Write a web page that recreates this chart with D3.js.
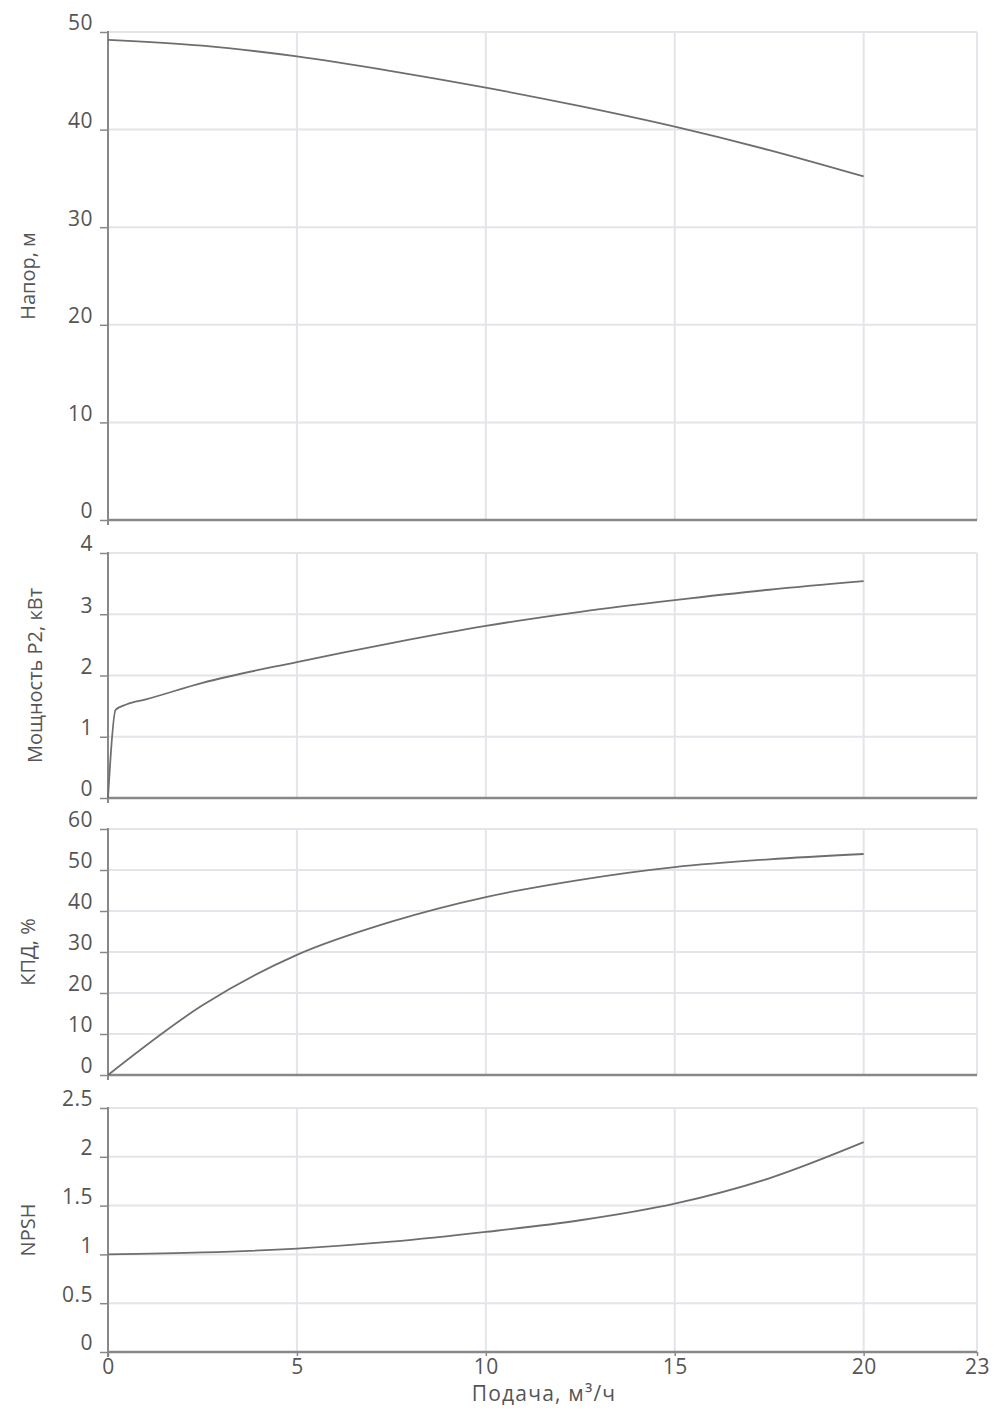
<!DOCTYPE html>
<html>
<head>
<meta charset="utf-8">
<script src="https://cdn.jsdelivr.net/npm/d3@7"></script>
<style>
  body { margin: 0; background: #fff; }
  svg text { font-family: "Open Sans", "DejaVu Sans", sans-serif; fill: #555; }
</style>
</head>
<body>
<svg id="chart" width="1000" height="1411"></svg>
<script>
// flow, m3/h
var flow = [0, 2.5, 5, 7.5, 10, 12.5, 15, 17.5, 20];
var head = [49.2, 48.6, 47.5, 46.0, 44.3, 42.4, 40.3, 37.9, 35.2];

var powerFlow = [0, 0.2, 0.5, 1, 2.5, 5, 7.5, 10, 12.5, 15, 17.5, 20];
var power = [0, 1.44, 1.53, 1.61, 1.88, 2.22, 2.53, 2.81, 3.04, 3.23, 3.40, 3.54];

var eff = [0, 17.0, 29.3, 37.4, 43.4, 47.6, 50.7, 52.6, 53.9];
var npsh = [1.0, 1.02, 1.06, 1.13, 1.23, 1.35, 1.52, 1.78, 2.15];

var xTicks = [0, 5, 10, 15, 20, 23];

var panels = [
  { title: "Напор, м", q: flow, v: head, max: 50, ticks: [0, 10, 20, 30, 40, 50], top: 32, bottom: 520, tx: 28 },
  { title: "Мощность P2, кВт", q: powerFlow, v: power, max: 4, ticks: [0, 1, 2, 3, 4], top: 553, bottom: 798, tx: 35 },
  { title: "КПД, %", q: flow, v: eff, max: 60, ticks: [0, 10, 20, 30, 40, 50, 60], top: 829, bottom: 1075, tx: 28 },
  { title: "NPSH", q: flow, v: npsh, max: 2.5, ticks: [0, 0.5, 1, 1.5, 2, 2.5], top: 1108, bottom: 1352, tx: 28 }
];

var svg = d3.select("#chart");
var x = d3.scaleLinear().domain([0, 23]).range([108, 977]);
var fmt = d3.format("~g");

panels.forEach(function (p, i) {
  var y = d3.scaleLinear().domain([0, p.max]).range([p.bottom, p.top]);
  var g = svg.append("g");

  // grid
  g.selectAll(".hg").data(p.ticks.slice(1)).join("line")
    .attr("x1", x(0)).attr("x2", x(23))
    .attr("y1", d => y(d)).attr("y2", d => y(d))
    .attr("stroke", "#e4e4ea").attr("stroke-width", 2);
  g.selectAll(".vg").data(xTicks.slice(1)).join("line")
    .attr("x1", d => x(d)).attr("x2", d => x(d))
    .attr("y1", p.top).attr("y2", p.bottom)
    .attr("stroke", "#e4e4ea").attr("stroke-width", 2);

  // y axis
  var ya = g.append("g").attr("transform", "translate(" + x(0) + ",0)")
    .call(d3.axisLeft(y).tickValues(p.ticks).tickFormat(fmt).tickSize(8).tickPadding(6).tickSizeOuter(0));
  ya.select(".domain").attr("stroke", "#888").attr("stroke-width", 2)
    .attr("d", "M0," + (p.top - 1) + "V" + (p.bottom + 5));
  ya.selectAll(".tick line").attr("stroke", "#888").attr("stroke-width", 1.5);
  ya.selectAll(".tick text")
    .attr("dy", "-0.1em").attr("x", -15)
    .style("font-size", "21px")
    .style("letter-spacing", "0.5px")
    .style("font-family", "'Open Sans', sans-serif")
    .attr("fill", "#555");

  // bottom line
  g.append("line")
    .attr("x1", x(0)).attr("x2", x(23))
    .attr("y1", p.bottom).attr("y2", p.bottom)
    .attr("stroke", "#888").attr("stroke-width", 2.5);

  // y title
  g.append("text")
    .attr("transform", "translate(" + p.tx + "," + ((p.top + p.bottom) / 2) + ") rotate(-90)")
    .attr("text-anchor", "middle")
    .attr("dy", "0.35em")
    .style("font-size", "20px")
    .text(p.title);

  // curve
  var pts = p.q.map((q, k) => [q, p.v[k]]);
  g.append("path")
    .datum(pts)
    .attr("fill", "none")
    .attr("stroke", "#6e6e6e")
    .attr("stroke-width", 1.8)
    .attr("d", d3.line().x(d => x(d[0])).y(d => y(d[1])).curve(d3.curveMonotoneX));

  if (i == panels.length - 1) {
    var xa = g.append("g").attr("transform", "translate(0," + p.bottom + ")")
      .call(d3.axisBottom(x).tickValues(xTicks).tickSize(4).tickPadding(3).tickSizeOuter(0));
    xa.select(".domain").remove();
    xa.selectAll(".tick line").attr("stroke", "#888").attr("stroke-width", 1.5);
    xa.selectAll(".tick text")
      .style("font-size", "21px")
      .style("letter-spacing", "0.5px")
      .style("font-family", "'Open Sans', sans-serif")
      .attr("fill", "#555");
    g.append("text")
      .attr("x", 544).attr("y", 1401)
      .attr("text-anchor", "middle")
      .style("font-size", "21px")
      .style("letter-spacing", "1.2px")
      .text("Подача, м³/ч");
  }
});
</script>
</body>
</html>
